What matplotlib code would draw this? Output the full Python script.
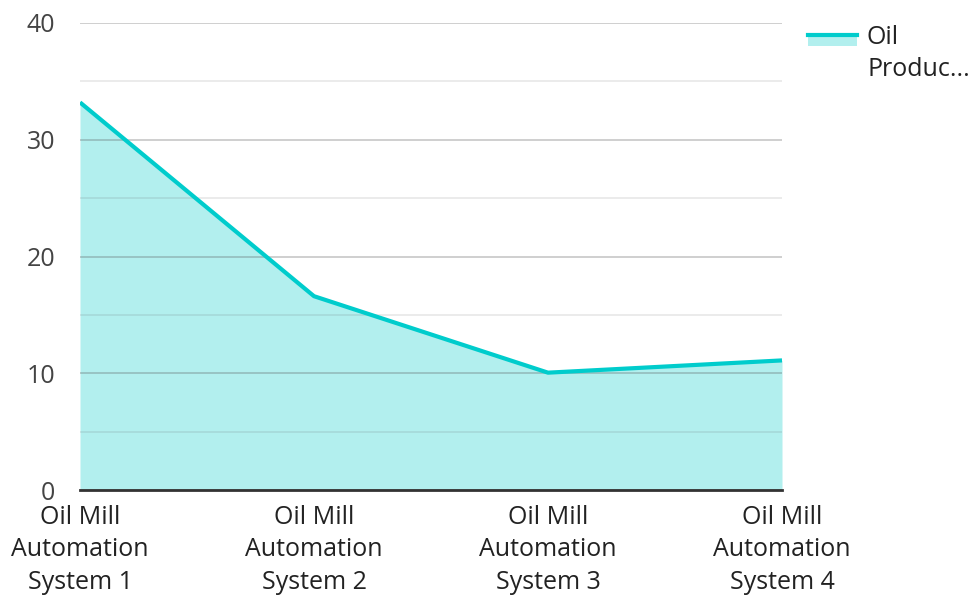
import matplotlib
matplotlib.use("Agg")
import matplotlib.pyplot as plt
from matplotlib.patches import Rectangle
from matplotlib.lines import Line2D
from matplotlib.legend_handler import HandlerBase

categories = ["Oil Mill\nAutomation\nSystem 1", "Oil Mill\nAutomation\nSystem 2",
              "Oil Mill\nAutomation\nSystem 3", "Oil Mill\nAutomation\nSystem 4"]
values = [33.2, 16.6, 10.05, 11.1]
series_label = "Oil\nProduc..."
yticks = [0, 10, 20, 30, 40]

line_color = "#00cccc"
fill_color = "#b2efee"
text_color = "#444444"

plt.rcParams['font.family'] = ['Open Sans', 'DejaVu Sans']

fig = plt.figure(figsize=(9.69, 5.97), dpi=100)
ax = fig.add_axes([80/969, 1-490/597, (782-80)/969, (490-23)/597])

x = list(range(len(categories)))
ax.fill_between(x, values, 0, color=fill_color, lw=0, zorder=1)
ax.plot(x, values, color=line_color, lw=3, zorder=3, solid_capstyle='butt')

ax.set_xlim(0, len(categories)-1)
ax.set_ylim(0, 40)
ax.set_yticks(yticks)
ax.set_yticks([5, 15, 25, 35], minor=True)
ax.grid(axis='y', which='major', color='#555555', alpha=0.3, lw=1.3, zorder=2)
ax.grid(axis='y', which='minor', color='#555555', alpha=0.13, lw=1.3, zorder=2)
ax.set_axisbelow(False)
for s in ['top', 'right', 'left']:
    ax.spines[s].set_visible(False)
ax.spines['bottom'].set_color('#333333')
ax.spines['bottom'].set_linewidth(2)
ax.spines['bottom'].set_zorder(4)
ax.set_xticks(x)
ax.set_xticklabels(categories, fontsize=18, color='#222222', linespacing=1.38)
ax.tick_params(axis='x', length=0, pad=11)
ax.tick_params(axis='y', which='both', length=0, pad=18, labelsize=18, labelcolor=text_color)


class AreaHandler(HandlerBase):
    def create_artists(self, legend, orig_handle, xdescent, ydescent, width, height, fontsize, trans):
        cy = -ydescent + height / 2.0
        ly = cy + 14.0
        r = Rectangle((-xdescent, ly - 7.9), width, 7.9, facecolor=fill_color,
                      edgecolor='none', transform=trans)
        l = Line2D([-xdescent, -xdescent + width], [ly, ly],
                   color=line_color, lw=3, transform=trans)
        return [r, l]

handle = Rectangle((0, 0), 1, 1)
leg = ax.legend([handle], [series_label], handler_map={Rectangle: AreaHandler()},
                loc='upper left', bbox_to_anchor=(808/969, 1-25/597),
                bbox_transform=fig.transFigure, frameon=False, fontsize=18,
                handlelength=1.96, handleheight=0.55, handletextpad=0.4,
                borderaxespad=0, borderpad=0)
for t in leg.get_texts():
    t.set_color('#222222')
    t.set_linespacing(1.38)

fig.savefig("out.png", dpi=100, facecolor='white')
